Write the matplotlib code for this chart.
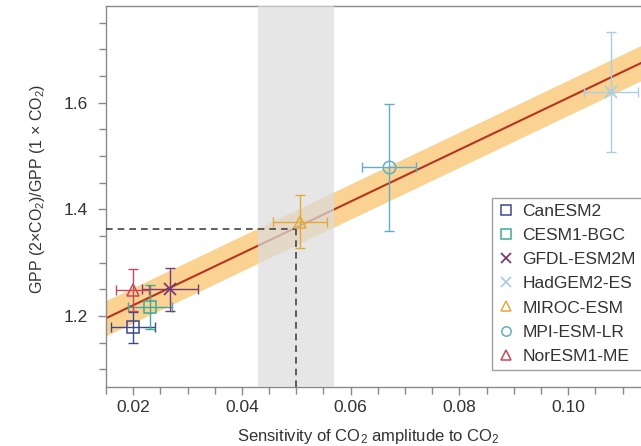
import numpy as np
import matplotlib
matplotlib.use("Agg")
import matplotlib.pyplot as plt
from matplotlib.ticker import MultipleLocator

plt.rcParams['font.family'] = ['Liberation Sans', 'DejaVu Sans']
plt.rcParams['mathtext.fontset'] = 'custom'
plt.rcParams['mathtext.rm'] = 'Liberation Sans'
plt.rcParams['mathtext.it'] = 'Liberation Sans'

# ---- data ----
models = ["CanESM2", "CESM1-BGC", "GFDL-ESM2M", "HadGEM2-ES", "MIROC-ESM", "MPI-ESM-LR", "NorESM1-ME"]
x_sens = [0.0200, 0.0231, 0.0268, 0.1079, 0.0507, 0.0670, 0.0199]
x_err = [0.0040, 0.0040, 0.0052, 0.0050, 0.0049, 0.0050, 0.0030]
y_gpp = [1.179, 1.217, 1.250, 1.620, 1.377, 1.479, 1.249]
y_err = [0.029, 0.042, 0.040, 0.112, 0.050, 0.119, 0.040]
markers = ["s", "s", "x", "x", "^", "o", "^"]
colors = ["#3d4a8a", "#3fa99a", "#7a3a72", "#a9cfe0", "#e3a93a", "#5fafc7", "#c8485a"]

fit_intercept = 1.123
fit_slope = 4.86
band_half = 0.033
obs_range = (0.043, 0.057)
obs_x = 0.050
obs_y = 1.364

xlim = (0.015, 0.1134)
ylim = (1.067, 1.781)

# ---- figure ----
fig = plt.figure(figsize=(6.41, 4.46), dpi=100)
ax = fig.add_axes([106/641, 59/446, 1 - 106/641, (387-6)/446])

xx = np.linspace(xlim[0], xlim[1], 200)
yy = fit_intercept + fit_slope * xx
ax.fill_between(xx, yy - band_half, yy + band_half, color="#fad393", lw=0, zorder=1)
ax.plot(xx, yy, color="#b8321f", lw=1.5, zorder=2)
ax.axvspan(obs_range[0], obs_range[1], color="#dcdcdc", alpha=0.7, lw=0, zorder=3)
ax.plot([xlim[0], obs_x], [obs_y, obs_y], ls=(0, (4, 3)), color="#444444", lw=1.2, zorder=4)
ax.plot([obs_x, obs_x], [ylim[0], obs_y], ls=(0, (4, 3)), color="#444444", lw=1.2, zorder=4)

for name, x, xe, y, ye, m, c in zip(models, x_sens, x_err, y_gpp, y_err, markers, colors):
    ax.errorbar(x, y, xerr=xe, yerr=ye, fmt="none", ecolor=c, elinewidth=1.0,
                capsize=3.5, capthick=1.0, zorder=5)
    if m == "x":
        ax.plot(x, y, marker=m, ms=9, mew=1.3, color=c, ls="none", zorder=6, label=name)
    else:
        ax.plot(x, y, marker=m, ms=9, mew=1.1, mfc="none", mec=c, ls="none", zorder=6, label=name)

ax.set_xlim(*xlim)
ax.set_ylim(*ylim)
ax.xaxis.set_minor_locator(MultipleLocator(0.005))
ax.yaxis.set_minor_locator(MultipleLocator(0.05))
ax.set_xticks([0.02, 0.04, 0.06, 0.08, 0.10])
ax.set_xticklabels(["0.02", "0.04", "0.06", "0.08", "0.10"])
ax.set_yticks([1.2, 1.4, 1.6])
ax.set_yticklabels(["1.2", "1.4", "1.6"])

for s in ["left", "bottom", "top"]:
    ax.spines[s].set_color("#8a8a8a")
    ax.spines[s].set_linewidth(1.0)
ax.spines["right"].set_visible(False)
ax.tick_params(which="both", direction="out", color="#8a8a8a", labelcolor="#333333")
ax.tick_params(which="major", length=6, width=1.0, labelsize=12.5)
ax.tick_params(axis="y", which="major", pad=7)
ax.tick_params(which="minor", length=5, width=1.0)

ax.set_xlabel("Sensitivity of CO$_2$ amplitude to CO$_2$", fontsize=12, color="#333333")
ax.xaxis.set_label_coords((368-106)/(641-106), -0.105)
ax.set_ylabel("GPP (2×CO$_2$)/GPP (1 × CO$_2$)", fontsize=11.5, color="#333333")
ax.yaxis.set_label_coords(-0.11, 0.52)

leg = ax.legend(loc="lower left", bbox_to_anchor=(492/641, 76/446), bbox_transform=fig.transFigure,
                frameon=True, fancybox=False, edgecolor="#8a8a8a", fontsize=12.5,
                handlelength=0.9, handletextpad=0.5, labelspacing=0.52, borderpad=0.35,
                borderaxespad=0, markerscale=0.75)
leg.get_frame().set_linewidth(1.0)
for t in leg.get_texts():
    t.set_color("#333333")

fig.savefig("out.png", dpi=100)
